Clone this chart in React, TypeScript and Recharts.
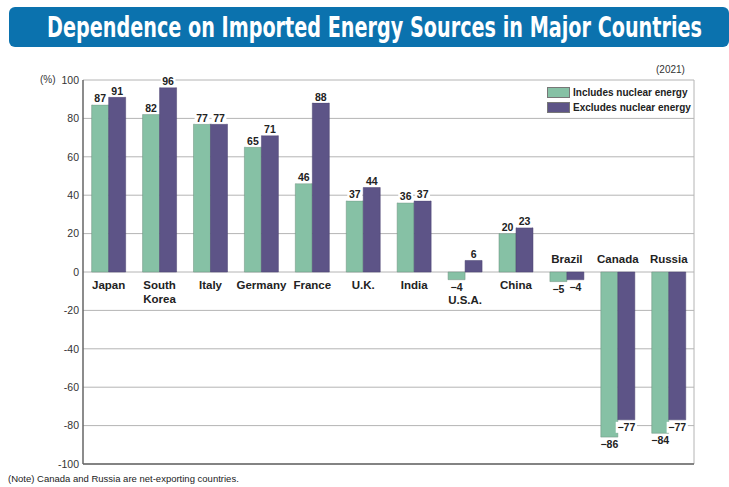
import React from "react";
import { Bar, BarChart, CartesianGrid, LabelList, Legend, ReferenceLine, XAxis, YAxis } from "recharts";

const countries = ["Japan", "South\nKorea", "Italy", "Germany", "France", "U.K.", "India", "U.S.A.", "China", "Brazil", "Canada", "Russia"];
const includesNuclear = [87, 82, 77, 65, 46, 37, 36, -4, 20, -5, -86, -84];
const excludesNuclear = [91, 96, 77, 71, 88, 44, 37, 6, 23, -4, -77, -77];
const yTicks = [100, 80, 60, 40, 20, 0, -20, -40, -60, -80, -100];

const data = countries.map((name, i) => ({ name, inc: includesNuclear[i], exc: excludesNuclear[i] }));

const FONT = '"Liberation Sans", Arial, sans-serif';
const GREEN = "#86C1A5";
const PURPLE = "#5D5487";

const box = (props: any) => (props.viewBox && props.viewBox.width != null ? props.viewBox : props);

function ValueLabel(props: any) {
  const { x, y, width, height } = box(props);
  const value = Number(props.value);
  const top = Math.min(y, y + height);
  const bottom = Math.max(y, y + height);
  const cx = x + width / 2;
  const ty = value >= 0 ? top - 2.5 : bottom + 11;
  const text = value < 0 ? `\u2212${Math.abs(value)}` : `${value}`;
  const w = text.length * 6.4 + 2;
  return (
    <g>
      <rect x={cx - w / 2} y={ty - 9} width={w} height={11} fill="#fff" />
      <text x={cx} y={ty} textAnchor="middle" fontSize={10.5} fontWeight="bold" fill="#222" fontFamily={FONT}>
        {text}
      </text>
    </g>
  );
}

function CountryLabel(props: any) {
  const { x, y, width, height } = box(props);
  const i = props.index ?? countries.indexOf(props.value);
  const inc = includesNuclear[i];
  const exc = excludesNuclear[i];
  const zero = inc >= 0 ? Math.max(y, y + height) : Math.min(y, y + height);
  const cx = x + width;
  // both negative: name sits above the zero line; one negative: pushed below its value label
  const ty = inc < 0 && exc < 0 ? zero - 9 : inc < 0 ? zero + 32 : zero + 17;
  const lines = countries[i].split("\n");
  return (
    <text x={cx} y={ty} textAnchor="middle" fontSize={11.5} fontWeight="bold" fill="#222" fontFamily={FONT}>
      {lines.map((l, k) => (
        <tspan key={k} x={cx} dy={k ? 14 : 0}>
          {l}
        </tspan>
      ))}
    </text>
  );
}

const legendItems = [
  { label: "Includes nuclear energy", color: GREEN },
  { label: "Excludes nuclear energy", color: PURPLE },
];

function LegendBox() {
  return (
    <div style={{ fontFamily: FONT }}>
      {legendItems.map((it) => (
        <div key={it.label} style={{ display: "flex", alignItems: "center", height: 15 }}>
          <span style={{ width: 21, height: 9, background: it.color, border: "1px solid #777", marginRight: 3 }} />
          <span style={{ fontSize: 10, fontWeight: "bold", color: "#222" }}>{it.label}</span>
        </div>
      ))}
    </div>
  );
}

export default function App() {
  return (
    <div style={{ position: "relative", width: 729, height: 487, background: "#fff", fontFamily: FONT }}>
      <style>{`body{margin:0}`}</style>
      <svg width={729} height={52} style={{ position: "absolute", left: 0, top: 0 }}>
        <rect x={9} y={7} width={720} height={40} rx={6} fill="#0B72AE" />
        <text
          x={47}
          y={29.3}
          transform="scale(1,1.28)"
          fill="#fff"
          fontSize={21.5}
          fontWeight="bold"
          fontFamily='"DejaVu Sans Condensed", "DejaVu Sans", sans-serif'
          textLength={655}
          lengthAdjust="spacingAndGlyphs"
        >
          Dependence on Imported Energy Sources in Major Countries
        </text>
      </svg>
      <div style={{ position: "absolute", left: 40, top: 74, fontSize: 10, color: "#333" }}>(%)</div>
      <div style={{ position: "absolute", left: 656, top: 64, fontSize: 10, color: "#333" }}>(2021)</div>
      <div style={{ position: "absolute", left: 8, top: 473, fontSize: 9.5, color: "#222" }}>
        (Note) Canada and Russia are net-exporting countries.
      </div>
      <div style={{ position: "absolute", left: 0, top: 0 }}>
        <BarChart
          width={729}
          height={487}
          data={data}
          margin={{ top: 80, right: 35, bottom: 23, left: 0 }}
          barCategoryGap="17%"
          barGap={0}
        >
          <CartesianGrid
            stroke="#b4b4b4"
            strokeWidth={1}
            horizontal
            vertical
            verticalCoordinatesGenerator={(p: any) => [p.offset.left + p.offset.width]}
          />
          <XAxis dataKey="name" hide />
          <YAxis
            width={83}
            domain={[-100, 100]}
            ticks={yTicks}
            interval={0}
            tickLine={false}
            tickSize={0}
            tickMargin={4}
            axisLine={{ stroke: "#666", strokeWidth: 1.5 }}
            tick={{ fill: "#333", fontSize: 10.5, fontFamily: FONT }}
          />
          <ReferenceLine y={-100} stroke="#666" strokeWidth={1.5} />
          <Legend
            layout="horizontal"
            verticalAlign="middle"
            wrapperStyle={{ top: 85, left: 547, width: 150 }}
            content={() => <LegendBox />}
          />
          <Bar dataKey="inc" fill={GREEN} stroke="#6a8f7d" strokeWidth={0.5} isAnimationActive={false}>
            <LabelList dataKey="inc" content={ValueLabel} />
            <LabelList dataKey="name" content={CountryLabel} />
          </Bar>
          <Bar dataKey="exc" fill={PURPLE} stroke="#4a4270" strokeWidth={0.5} isAnimationActive={false}>
            <LabelList dataKey="exc" content={ValueLabel} />
          </Bar>
        </BarChart>
      </div>
    </div>
  );
}
